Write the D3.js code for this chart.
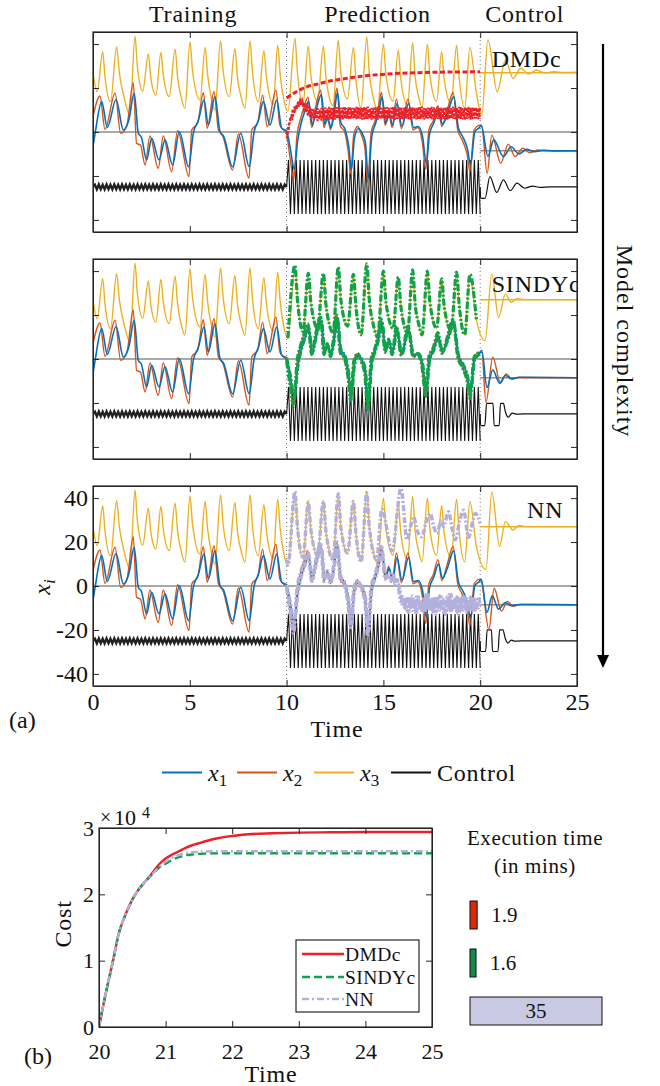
<!DOCTYPE html>
<html>
<head>
<meta charset="utf-8">
<script src="https://cdn.jsdelivr.net/npm/d3@7"></script>
<style>
  body { margin: 0; background: #fff; }
  svg { display: block; }
  text { font-family: "Liberation Serif", "Times New Roman", serif; fill: #111; }
</style>
</head>
<body>
<svg id="fig" width="660" height="1086"></svg>
<script>
// ---------------- data ----------------
const phaseTitles = ["Training", "Prediction", "Control"];
const modelNames = ["DMDc", "SINDYc", "NN"];
const xTickValues = [0, 5, 10, 15, 20, 25];
const yTickValues = [-40, -20, 0, 20, 40];

// Reference Lorenz trajectory over training + prediction windows: [time, value]
const trueX1 = [
  [0,-6.5],[0.12,0],[0.45,13.8],[0.74,2.1],[1.19,14.8],[1.57,0.9],[1.85,5.5],[2.13,17.6],[2.34,-0.6],[2.5,-2.4],
  [2.77,-12.7],[3.03,-2.9],[3.41,-12.7],[3.72,-3.6],[4.11,-15],[4.46,0.1],[4.94,-15.8],[5.18,-0.6],[5.45,5.5],
  [5.73,14.5],[5.96,3.2],[6.3,16],[6.56,0.2],[6.75,-2],[7.21,-15.8],[7.63,-0.6],[8.07,-15.8],[8.32,0],[8.55,5.5],
  [8.8,13.8],[9.14,3.2],[9.49,14.5],[9.75,1.7],
  [10.0,0.5],[10.18,-7],[10.4,-17],[10.57,-4],[10.75,4],[10.97,10],[11.14,14],[11.33,3],[11.5,9],[11.8,17],
  [11.97,3.5],[12.12,6],[12.3,2],[12.45,8],[12.63,18],[12.8,4.5],[13.03,1],[13.2,-6],[13.35,-17],[13.5,-3],
  [13.7,1.5],[13.9,-0.5],[14.07,-5],[14.22,-21],[14.4,-2],[14.6,4],[14.78,10],[14.93,16],[15.12,4],[15.3,8],
  [15.48,3],[15.7,13],[15.96,2.5],[16.3,13],[16.56,2],[16.8,2.5],[17.02,-2],[17.22,-14.5],[17.38,-1],[17.6,4],
  [17.85,10],[18.05,3.5],[18.3,8],[18.63,16],[18.87,2],[19.12,-2.5],[19.35,-8],[19.5,-15],[19.72,0],[19.95,2]
];
const trueX2 = [
  [0,7],[0.36,16.4],[0.62,1.2],[1.14,17.6],[1.43,-0.6],[1.75,3],[2.08,22.4],[2.25,-5.2],[2.45,-5.9],[2.69,-15],
  [2.94,-1.8],[3.37,-16.5],[3.63,-1.8],[4.06,-18],[4.37,0.6],[4.96,-20.3],[5.1,0.9],[5.4,4],[5.7,17.9],[5.9,1.7],
  [6.25,18.3],[6.48,0.9],[6.7,-1.8],[7.21,-17.3],[7.51,-0.9],[8.06,-21],[8.2,0.9],[8.5,4],[8.76,16.8],[9.0,2.4],
  [9.45,19],[9.65,3.2],
  [10.0,-1],[10.15,-10],[10.37,-21.5],[10.53,-2],[10.72,6],[10.93,12],[11.1,16],[11.3,2],[11.47,10],[11.76,19],
  [11.93,2],[12.1,7],[12.27,1],[12.42,9],[12.6,20],[12.77,3],[13.0,0],[13.17,-8],[13.32,-19],[13.47,-1],
  [13.67,2.5],[13.87,-1.5],[14.04,-7],[14.19,-23],[14.37,0],[14.57,5],[14.75,12],[14.9,18],[15.09,3],[15.27,9],
  [15.45,2],[15.67,15],[15.93,1.5],[16.27,15],[16.53,1],[16.77,2],[17.0,-4],[17.19,-17],[17.35,1],[17.57,5],
  [17.82,12],[18.02,2.5],[18.27,9],[18.6,18],[18.84,1],[19.09,-4],[19.32,-10],[19.47,-18],[19.69,1],[19.95,3]
];
const trueX3 = [
  [0,26.7],[0.22,18.3],[0.5,36.5],[0.62,25],[0.91,13.8],[1.22,38.8],[1.36,27],[1.6,16],[1.91,7.7],[2.17,43.6],
  [2.29,30],[2.57,18.6],[2.86,35.5],[2.98,25],[3.25,16.8],[3.51,36.2],[3.63,26],[3.94,16.1],[4.24,37.7],[4.37,25],
  [4.55,16],[4.75,10.8],[5.01,41],[5.14,28],[5.53,14.5],[5.79,38.5],[5.92,26],[6.1,16],[6.3,10],[6.59,41.4],
  [6.72,28],[7.04,16.1],[7.33,38],[7.46,25],[7.65,16],[7.85,10.8],[8.11,41.4],[8.24,27],[8.54,13.8],[8.83,37],
  [8.96,25],[9.31,12.7],[9.54,39.5],[9.67,26],[9.85,15],[10.07,9.5],
  [10.43,42.6],[10.56,27],[10.85,12.5],[11.12,39],[11.25,26],[11.6,14],[11.9,39],[12.03,25],[12.2,16],[12.4,12],
  [12.67,41.8],[12.8,27],[13.15,15],[13.45,38.5],[13.58,24],[13.85,11],[14.14,43.3],[14.27,27],[14.47,16],[14.7,10],
  [15.0,40],[15.13,26],[15.5,14],[15.77,37.3],[15.9,24],[16.25,12],[16.51,40.6],[16.64,25],[16.82,16],[17.0,11],
  [17.27,40],[17.4,26],[17.75,14],[18.01,36.5],[18.14,24],[18.5,13],[18.78,39.5],[18.91,25],[19.2,11],[19.47,38.5],
  [19.8,18]
];

// Forcing signal, sampled every 0.1 time units
const uStep = 0.1;
const uTrain = [ // t = 0 .. 10
  -25,-24.0,-26.1,-23.9,-26.0,-24.0,-26.1,-23.9,-26.0,-24.0,-26.1,-23.9,-26.0,-24.0,-26.1,-23.9,-26.0,-24.0,-26.1,-23.9,
  -26.0,-24.0,-26.1,-23.9,-26.0,-24.0,-26.1,-23.9,-26.0,-24.0,-26.1,-23.9,-26.0,-24.0,-26.1,-23.9,-26.0,-24.0,-26.1,-23.9,
  -26.0,-24.0,-26.1,-23.9,-26.0,-24.0,-26.1,-23.9,-26.0,-24.0,-26.1,-23.9,-26.0,-24.0,-26.1,-23.9,-26.0,-24.0,-26.1,-23.9,
  -26.0,-24.0,-26.1,-23.9,-26.0,-24.0,-26.1,-23.9,-26.0,-24.0,-26.1,-23.9,-26.0,-24.0,-26.1,-23.9,-26.0,-24.0,-26.1,-23.9,
  -26.0,-24.0,-26.1,-23.9,-26.0,-24.0,-26.1,-23.9,-26.0,-24.0,-26.1,-23.9,-26.0,-24.0,-26.1,-23.9,-26.0,-24.0,-26.1,-23.9,-25
];
const uPred = [ // t = 10 .. 20
  -25,
  -12.7,-37.3,-12.7,-37.3,-12.7,-37.3,-12.7,-37.3,-12.7,-37.3,-12.7,-37.3,-12.7,-37.3,-12.7,-37.3,-12.7,-37.3,-12.7,-37.3,
  -12.7,-37.3,-12.7,-37.3,-12.7,-37.3,-12.7,-37.3,-12.7,-37.3,-12.7,-37.3,-12.7,-37.3,-12.7,-37.3,-12.7,-37.3,-12.7,-37.3,
  -12.7,-37.3,-12.7,-37.3,-12.7,-37.3,-12.7,-37.3,-12.7,-37.3,-12.7,-37.3,-12.7,-37.3,-12.7,-37.3,-12.7,-37.3,-12.7,-37.3,
  -12.7,-37.3,-12.7,-37.3,-12.7,-37.3,-12.7,-37.3,-12.7,-37.3,-12.7,-37.3,-12.7,-37.3,-12.7,-37.3,-12.7,-37.3,-12.7,-37.3,
  -12.7,-37.3,-12.7,-37.3,-12.7,-37.3,-12.7,-37.3,-12.7,-37.3,-12.7,-37.3,-12.7,-37.3,-12.7,-37.3,-12.7,-37.3,-12.7,-37.3
];

// Closed-loop response (t >= 20) under each model's controller: [time, value]
const dmdcCtlX1 = [[20.05,3],[20.4,-11],[20.7,-3.6],[21.2,-11.2],[21.6,-6.7],[22.0,-10],[22.4,-7.9],[22.8,-9],[23.3,-8.3],[23.8,-8.6],[25,-8.5]];
const dmdcCtlX2 = [[20.08,2.7],[20.36,-18.8],[20.6,-1.4],[21.06,-14.2],[21.45,-5.5],[21.8,-11.2],[22.2,-7.4],[22.55,-9.4],[23,-8.2],[23.5,-8.6],[25,-8.5]];
const dmdcCtlX3 = [[20.08,7.7],[20.4,42],[20.88,18.3],[21.3,32.7],[21.7,24.4],[22.1,29],[22.5,26.4],[22.9,28.2],[23.3,26.9],[23.8,27.4],[24.3,27.1],[25,27.2]];
const dmdcCtlU  = [[20.0,-25],[20.02,-30.2],[20.25,-30.2],[20.5,-20.3],[20.85,-27.5],[21.2,-21.8],[21.55,-26.7],[21.9,-23.3],[22.3,-25.6],[22.7,-24.6],[23.1,-25.2],[23.6,-25],[25,-25]];

const sindyCtlX1 = [[20.08,4],[20.35,-13],[20.65,-5],[21.0,-11],[21.3,-7.5],[21.6,-9],[22,-8.3],[25,-8.5]];
const sindyCtlX2 = [[20.08,3],[20.3,-19.7],[20.65,0.8],[21.05,-11],[21.35,-6.8],[21.65,-9.2],[22,-8.4],[25,-8.5]];
const sindyCtlX3 = [[20.25,8.3],[20.6,38.6],[20.95,18.9],[21.3,29.5],[21.6,25.8],[21.9,27.4],[22.3,27],[25,27]];
const sindyCtlU  = [[20.0,-25],[20.02,-30.3],[20.24,-30.3],[20.33,-20.2],[20.66,-20.2],[20.72,-30.3],[20.98,-30.3],[21.05,-20.2],[21.2,-20.2],[21.3,-24],[21.45,-26.5],[21.65,-24.6],[21.9,-25.1],[22.2,-25],[25,-25]];

const nnCtlX1 = [[20.05,3],[20.35,-12],[20.62,-4.5],[20.95,-10.5],[21.3,-7.5],[21.6,-9],[22,-8.4],[25,-8.5]];
const nnCtlX2 = [[20.05,2.5],[20.45,-20],[20.72,-1],[21.1,-11.5],[21.4,-7],[21.7,-9.2],[22.1,-8.4],[25,-8.5]];
const nnCtlX3 = [[20.3,7.5],[20.6,42.8],[21.0,18],[21.3,29.3],[21.7,25.5],[22.0,27.5],[22.4,27],[25,27]];
const nnCtlU  = [[20.0,-25],[20.02,-29.8],[20.28,-29.8],[20.36,-20],[20.58,-20],[20.64,-29.8],[20.92,-29.8],[21.0,-20],[21.17,-20],[21.3,-24],[21.43,-26],[21.6,-24.6],[21.8,-25.1],[22.1,-25],[25,-25]];

const setpointX12 = -8.49;
const setpointX3 = 27;

// DMDc predictions, x1 and x2 sampled every 0.1 from t = 10
const dmdcPredX1 = [
  -1,3,5.5,9.5,8.5,12.5,11,14.5,12,13.5,9,11.5,7,10.5,5.5,10,5,10.2,5.2,10.4,5.4,
  10.6,5.6,10.9,5.9,11.1,6.1,10.8,5.8,11.2,6.0,11.0,5.7,11.3,6.2,10.9,5.9,11.2,6.1,11.0,5.8,
  11.3,6.0,10.8,5.7,11.1,6.2,11.4,5.9,10.9,6.1,11.2,5.8,11.0,6.0,11.3,5.7,10.8,6.2,11.1,5.9,
  11.4,6.1,10.9,5.8,11.2,6.0,11.0,5.7,11.3,6.2,10.8,5.9,11.1,6.1,11.4,5.8,10.9,6.0,11.2,5.7,
  11.0,6.2,11.3,5.9,10.8,6.1,11.1,5.8,11.4,6.0,10.9,5.7,11.2,6.2,11.0,5.9,11.3,6.1,10.8,6.0
];
const dmdcPredX2 = [
  -3,0.5,7,6,11,10,14,12,14.5,10,12,7.5,11,6.5,10.5,6,10.8,5.8,11,6,11.2,
  6.2,11.4,5.9,11.1,5.6,11.3,6.0,11.0,5.7,11.5,6.1,11.2,5.8,11.0,6.3,11.4,5.9,11.1,5.6,11.3,
  6.0,11.5,6.2,10.9,5.8,11.2,5.7,11.4,6.1,11.0,5.9,11.3,6.2,11.1,5.8,11.5,6.0,11.2,5.7,11.0,
  6.1,11.3,5.9,11.4,6.2,11.1,5.8,11.2,6.0,11.5,5.7,11.0,6.1,11.3,5.9,11.2,6.2,11.4,5.8,11.1,
  6.0,11.3,5.7,11.2,6.1,11.5,5.9,11.0,6.2,11.3,5.8,11.1,6.0,11.4,5.7,11.2,6.1,11.0,5.9,11.2
];
const dmdcPredX3 = [
  [10.0,15.5],[10.5,18.3],[11.05,20.6],[11.5,21.6],[12.3,23.3],[13.1,24.4],[14.0,25.5],[14.9,26.2],
  [15.8,26.7],[16.8,27.0],[17.8,27.2],[18.8,27.3],[20.0,27.4]
];

// NN predictions
const nnPredX3 = [
  [10.0,12],[10.07,9.5],[10.43,43],[10.56,27],[10.85,13],[11.12,38],[11.25,26],[11.6,14],[11.9,38.5],[12.03,25],[12.4,12],
  [12.67,42],[12.8,27],[13.15,15],[13.45,38.5],[13.58,24],[13.85,11],[14.14,42.5],[14.27,27],[14.65,12],[14.92,35],
  [15.45,16],[15.91,44.4],[16.22,21],[16.4,27],[16.56,31.5],[16.75,25],[16.99,22.4],[17.2,29],[17.42,33],[17.6,27],
  [17.76,24],[18.0,30],[18.1,27],[18.37,33.8],[18.55,26],[18.71,21],[18.95,30],[19.14,34.5],[19.4,22],[19.6,29],
  [19.75,33],[20.0,28.5]
];
const nnTailStart = 15.3;   // x1, x2 tails sampled every 0.1 from here
const nnPredX1Tail = [
  6,3,5,2,3.5,0,-4,-9,-6,-11,-5,-10,-4.5,-11,-5,-10,-6,-12,-5,-11,-4,-10.5,-6,-12.5,-5,
  -11,-4.5,-10,-6,-13,-5,-11,-4,-10,-6,-12,-5,-11,-4.5,-10.5,-6,-12,-5,-11,-6,-10,-5,-9
];
const nnPredX2Tail = [
  5,2,6,1,3,-2,-7,-5,-10,-6,-12,-5,-11,-6,-13,-5,-10,-7,-12,-4,-11,-6,-12,-5,-13,
  -6,-11,-5,-12,-7,-11,-4,-12,-6,-10,-5,-13,-6,-11,-5,-12,-6,-11,-5,-12,-7,-10,-8
];

// Accumulated cost in the control window
const costTime   = [20,20.1,20.2,20.3,20.4,20.5,20.6,20.7,20.8,20.9,21.0,21.1,21.2,21.3,21.4,21.5,21.6,21.8,22.0,22.3,22.6,23,23.5,24,24.5,25];
const costDMDc   = [0,5000,9500,14200,17000,19200,20800,22000,23200,24500,25400,26000,26500,27000,27400,27700,28000,28500,28800,29100,29200,29300,29350,29400,29400,29400];
const costSINDYc = [0,5000,9500,14200,17000,19200,20800,22000,23000,24000,24600,25200,25600,25900,26000,26100,26150,26200,26200,26200,26200,26200,26200,26200,26200,26200];
const costNN     = [0,5000,9500,14200,17000,19200,20800,22000,23000,24100,24900,25500,25900,26200,26350,26400,26450,26500,26500,26500,26500,26500,26500,26500,26500,26500];
const costTicksX = [20,21,22,23,24,25];
const costTicksY = [0,10000,20000,30000];

const execNames = ["DMDc", "SINDYc", "NN"];
const execTimes = [1.9, 1.6, 35];

// ---------------- styles ----------------
const C = {
  x1: "#0072BD", x2: "#D95319", x3: "#EDB120", u: "#111",
  dmdc: "#ee1f26", sindy: "#0da24b", nn: "#b3b0dc",
  axis: "#262626", ref12: "#a58a78"
};
const FONT = 24;

const svg = d3.select("#fig");
const xA = d3.scaleLinear().domain([0, 25]).range([93, 577]);
const panelTops = [32, 259, 486];
const panelH = 200;
const pairs = (vals, t0, dt) => vals.map((v, i) => [t0 + i * dt, v]);
const mkLine = (xs, ys, curve) => d3.line().x(d => xs(d[0])).y(d => ys(d[1])).curve(curve || d3.curveMonotoneX);

const ctlX1 = [dmdcCtlX1, sindyCtlX1, nnCtlX1];
const ctlX2 = [dmdcCtlX2, sindyCtlX2, nnCtlX2];
const ctlX3 = [dmdcCtlX3, sindyCtlX3, nnCtlX3];
const ctlU  = [dmdcCtlU, sindyCtlU, nnCtlU];

// Phase titles
const titleT = [5.17, 14.7, 22.3];
phaseTitles.forEach((s, i) => {
  svg.append("text").attr("x", xA(titleT[i])).attr("y", 22).attr("text-anchor", "middle")
    .attr("font-size", FONT).attr("letter-spacing", 0.8).text(s);
});

function styleAxis(g, showLabels, size) {
  g.attr("font-family", null).attr("font-size", null);
  g.select(".domain").attr("stroke", C.axis).attr("stroke-width", 1);
  g.selectAll(".tick line").attr("stroke", C.axis).attr("stroke-width", 1);
  g.selectAll(".tick text").attr("font-size", size || FONT).attr("fill", "#111")
    .attr("font-family", '"Liberation Serif", serif');
  if (!showLabels) g.selectAll(".tick text").remove();
}

panelTops.forEach((top, i) => {
  const y = d3.scaleLinear().domain([-45.5, 45.5]).range([top + panelH, top]);
  const g = svg.append("g");
  const clipId = "clip" + i;
  svg.append("clipPath").attr("id", clipId).append("rect")
    .attr("x", xA(0)).attr("y", top).attr("width", xA(25) - xA(0)).attr("height", panelH);
  const c = g.append("g").attr("clip-path", `url(#${clipId})`);

  // zero line and phase separators
  c.append("line").attr("x1", xA(0)).attr("x2", xA(25)).attr("y1", y(0)).attr("y2", y(0))
    .attr("stroke", "#555").attr("stroke-width", 1.2);
  [10, 20].forEach(t => c.append("line").attr("x1", xA(t)).attr("x2", xA(t))
    .attr("y1", top).attr("y2", top + panelH).attr("stroke", "#777").attr("stroke-width", 1)
    .attr("stroke-dasharray", "1,3"));

  // set points in the control window
  c.append("line").attr("x1", xA(20)).attr("x2", xA(25)).attr("y1", y(setpointX3)).attr("y2", y(setpointX3))
    .attr("stroke", C.x3).attr("stroke-width", 1.5);
  c.append("line").attr("x1", xA(20)).attr("x2", xA(25)).attr("y1", y(setpointX12)).attr("y2", y(setpointX12))
    .attr("stroke", C.ref12).attr("stroke-width", 1.5);

  // forcing / control input
  const lin = mkLine(xA, y, d3.curveLinear);
  c.append("path").attr("d", lin(pairs(uTrain, 0, uStep))).attr("fill", "none").attr("stroke", "#222").attr("stroke-width", 2.4);
  c.append("path").attr("d", lin(pairs(uPred, 10, uStep))).attr("fill", "none").attr("stroke", C.u).attr("stroke-width", 1.1);
  c.append("path").attr("d", mkLine(xA, y)(ctlU[i])).attr("fill", "none").attr("stroke", C.u).attr("stroke-width", 1.2);

  // states
  const sm = mkLine(xA, y);
  c.append("path").attr("d", sm(trueX3.concat(ctlX3[i]))).attr("fill", "none").attr("stroke", C.x3).attr("stroke-width", 1.4);
  c.append("path").attr("d", sm(trueX2.concat(ctlX2[i]))).attr("fill", "none").attr("stroke", C.x2).attr("stroke-width", 1.4);
  c.append("path").attr("d", sm(trueX1.concat(ctlX1[i]))).attr("fill", "none").attr("stroke", C.x1).attr("stroke-width", 1.6);

  // model predictions over the prediction window
  if (i === 0) {
    c.append("path").attr("d", lin(pairs(dmdcPredX2, 10, 0.1))).attr("fill", "none").attr("stroke", C.dmdc)
      .attr("stroke-width", 2).attr("stroke-dasharray", "3,1.5");
    c.append("path").attr("d", lin(pairs(dmdcPredX1, 10, 0.1))).attr("fill", "none").attr("stroke", C.dmdc)
      .attr("stroke-width", 2).attr("stroke-dasharray", "3,1.5");
    c.append("path").attr("d", sm(dmdcPredX3)).attr("fill", "none").attr("stroke", C.dmdc)
      .attr("stroke-width", 3).attr("stroke-dasharray", "5,2.5");
  } else if (i === 1) {
    const win = a => a.filter(d => d[0] >= 10);
    [trueX3, trueX2, trueX1].forEach(a => {
      c.append("path").attr("d", sm(win(a))).attr("fill", "none").attr("stroke", C.sindy)
        .attr("stroke-width", 3.2).attr("stroke-dasharray", "7,2,2,2");
    });
  } else {
    const head = a => a.filter(d => d[0] >= 10 && d[0] < nnTailStart - 0.1);
    const x1 = head(trueX1).concat(pairs(nnPredX1Tail, nnTailStart, 0.1));
    const x2 = head(trueX2).concat(pairs(nnPredX2Tail, nnTailStart, 0.1));
    [nnPredX3, x2, x1].forEach(a => {
      c.append("path").attr("d", sm(a)).attr("fill", "none").attr("stroke", C.nn)
        .attr("stroke-width", 3.4).attr("stroke-dasharray", "6,2,2,2");
    });
  }

  // model name
  const nameX = [491.7, 491.7, 527];
  const nameY = [67, 292, 518];
  c.append("text").attr("x", nameX[i]).attr("y", nameY[i]).attr("font-size", FONT)
    .attr("letter-spacing", 0.8).text(modelNames[i]);

  // axes with inward ticks on all four sides
  const last = i === 2;
  const ax = (axis, tx, ty, labels) => {
    const a = g.append("g").attr("transform", `translate(${tx},${ty})`).call(axis);
    styleAxis(a, labels);
    return a;
  };
  ax(d3.axisBottom(xA).tickValues(xTickValues).tickSize(-6).tickSizeOuter(0).tickPadding(7).tickFormat(d => String(d)), 0, top + panelH, last);
  ax(d3.axisTop(xA).tickValues(xTickValues).tickSize(-6).tickSizeOuter(0), 0, top, false);
  ax(d3.axisLeft(y).tickValues(yTickValues).tickSize(-6).tickSizeOuter(0).tickPadding(5).tickFormat(d => String(d)), xA(0), 0, last);
  ax(d3.axisRight(y).tickValues(yTickValues).tickSize(-6).tickSizeOuter(0), xA(25), 0, false);
  g.append("rect").attr("x", xA(0)).attr("y", top).attr("width", xA(25) - xA(0)).attr("height", panelH)
    .attr("fill", "none").attr("stroke", C.axis).attr("stroke-width", 1.2);
});

// Axis titles for panel (a)
svg.append("text").attr("x", 337).attr("y", 737).attr("text-anchor", "middle").attr("font-size", FONT)
  .attr("letter-spacing", 0.8).text("Time");
svg.append("text").attr("x", 9).attr("y", 728).attr("font-size", FONT).text("(a)");
const yl = svg.append("text").attr("transform", "translate(50,587) rotate(-90)").attr("text-anchor", "middle")
  .attr("font-size", FONT);
yl.append("tspan").attr("font-style", "italic").text("x");
yl.append("tspan").attr("font-style", "italic").attr("font-size", 17).attr("dy", 5).text("i");

// Model complexity arrow
svg.append("line").attr("x1", 603).attr("x2", 603).attr("y1", 44).attr("y2", 656)
  .attr("stroke", "#000").attr("stroke-width", 2.2);
svg.append("path").attr("d", "M597,655 L609,655 L603,668 Z").attr("fill", "#000");
svg.append("text").attr("transform", "translate(617,341) rotate(90)").attr("text-anchor", "middle")
  .attr("font-size", FONT).attr("letter-spacing", 1).text("Model complexity");

// Legend for the state traces
const legItems = [
  { c: C.x1, sub: "1", x: 162 },
  { c: C.x2, sub: "2", x: 237 },
  { c: C.x3, sub: "3", x: 314 },
  { c: C.u, label: "Control", x: 391 }
];
legItems.forEach(it => {
  svg.append("line").attr("x1", it.x).attr("x2", it.x + 40).attr("y1", 772.5).attr("y2", 772.5)
    .attr("stroke", it.c).attr("stroke-width", 2.2);
  const t = svg.append("text").attr("x", it.x + 46).attr("y", 781).attr("font-size", FONT);
  if (it.label) t.attr("letter-spacing", 0.8).text(it.label);
  else {
    t.append("tspan").attr("font-style", "italic").text("x");
    t.append("tspan").attr("font-size", 17).attr("dy", 5).text(it.sub);
  }
});

// ---------------- panel (b): cost ----------------
const xB = d3.scaleLinear().domain([20, 25]).range([99, 432]);
const yB = d3.scaleLinear().domain([0, 30000]).range([1027, 828]);
const gb = svg.append("g");
svg.append("clipPath").attr("id", "clipB").append("rect")
  .attr("x", 99).attr("y", 828).attr("width", 333).attr("height", 199);
const cb = gb.append("g").attr("clip-path", "url(#clipB)");
const costLine = d3.line().x((d, i) => xB(costTime[i])).y(d => yB(d)).curve(d3.curveMonotoneX);
cb.append("path").attr("d", costLine(costDMDc)).attr("fill", "none").attr("stroke", C.dmdc).attr("stroke-width", 2.4);
cb.append("path").attr("d", costLine(costSINDYc)).attr("fill", "none").attr("stroke", C.sindy).attr("stroke-width", 2.4)
  .attr("stroke-dasharray", "8,4");
cb.append("path").attr("d", costLine(costNN)).attr("fill", "none").attr("stroke", C.nn).attr("stroke-width", 2.4)
  .attr("stroke-dasharray", "7,3,2,3");

const axB = (axis, tx, ty, labels) => {
  const a = gb.append("g").attr("transform", `translate(${tx},${ty})`).call(axis);
  styleAxis(a, labels, 22);
  return a;
};
axB(d3.axisBottom(xB).tickValues(costTicksX).tickSize(-6).tickSizeOuter(0).tickPadding(16).tickFormat(d => String(d)), 0, 1027, true);
axB(d3.axisTop(xB).tickValues(costTicksX).tickSize(-6).tickSizeOuter(0), 0, 828, false);
axB(d3.axisLeft(yB).tickValues(costTicksY).tickSize(-6).tickSizeOuter(0).tickPadding(5).tickFormat(d => String(d / 10000)), 99, 0, true);
axB(d3.axisRight(yB).tickValues(costTicksY).tickSize(-6).tickSizeOuter(0), 432, 0, false);
gb.append("rect").attr("x", 99).attr("y", 828).attr("width", 333).attr("height", 199)
  .attr("fill", "none").attr("stroke", C.axis).attr("stroke-width", 1.2);

// exponent label
svg.append("text").attr("x", 100).attr("y", 824).attr("font-size", 20).attr("fill", "#444").text("×");
svg.append("text").attr("x", 114).attr("y", 825).attr("font-size", 22).text("10");
svg.append("text").attr("x", 142).attr("y", 818).attr("font-size", 16).text("4");

svg.append("text").attr("x", 271).attr("y", 1082).attr("text-anchor", "middle").attr("font-size", FONT)
  .attr("letter-spacing", 0.8).text("Time");
svg.append("text").attr("transform", "translate(71,924) rotate(-90)").attr("text-anchor", "middle")
  .attr("font-size", FONT).attr("letter-spacing", 0.8).text("Cost");
svg.append("text").attr("x", 24).attr("y", 1064).attr("font-size", FONT).text("(b)");

// cost legend
const lg = svg.append("g");
lg.append("rect").attr("x", 296).attr("y", 940).attr("width", 123).attr("height", 72)
  .attr("fill", "#fff").attr("stroke", C.axis).attr("stroke-width", 1.2);
const legB = [
  { name: "DMDc", c: C.dmdc, dash: null, y: 954 },
  { name: "SINDYc", c: C.sindy, dash: "8,4", y: 977 },
  { name: "NN", c: C.nn, dash: "7,3,2,3", y: 999 }
];
legB.forEach(it => {
  lg.append("line").attr("x1", 302).attr("x2", 344).attr("y1", it.y).attr("y2", it.y)
    .attr("stroke", it.c).attr("stroke-width", 2.4).attr("stroke-dasharray", it.dash);
  lg.append("text").attr("x", 345).attr("y", it.y + 7).attr("font-size", 19.5).attr("letter-spacing", 0.4).text(it.name);
});

// execution time bars
const execColors = ["#d92b0c", "#138a4a", "#c9c9e3"];
const xE = d3.scaleLinear().domain([0, 35]).range([0, 132]);
const barY = [901, 949, 997];
svg.append("text").attr("x", 535).attr("y", 845).attr("text-anchor", "middle").attr("font-size", 21)
  .attr("letter-spacing", 0.6).text("Execution time");
svg.append("text").attr("x", 535).attr("y", 873).attr("text-anchor", "middle").attr("font-size", 21)
  .attr("letter-spacing", 0.6).text("(in mins)");
execTimes.forEach((v, i) => {
  svg.append("rect").attr("x", 470).attr("y", barY[i]).attr("width", xE(v)).attr("height", 28)
    .attr("fill", execColors[i]).attr("stroke", "#111").attr("stroke-width", 1);
  const big = xE(v) > 40;
  svg.append("text").attr("x", big ? 470 + xE(v) / 2 : 470 + xE(v) + 14).attr("y", barY[i] + 21)
    .attr("text-anchor", big ? "middle" : "start").attr("font-size", 21).text(String(v));
});
</script>
</body>
</html>
